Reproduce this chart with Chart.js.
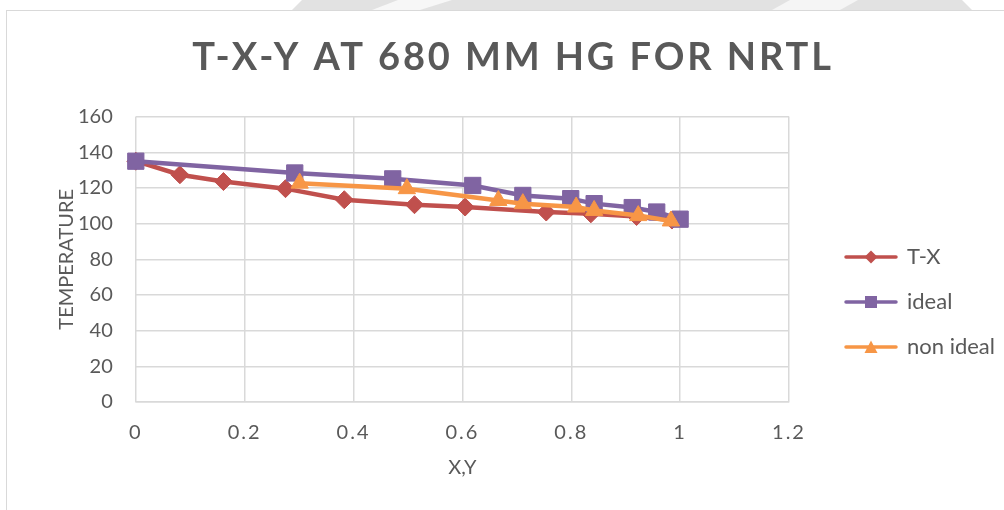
<!DOCTYPE html>
<html>
<head>
<meta charset="utf-8">
<script src="https://cdn.jsdelivr.net/npm/chart.js@4.4.1/dist/chart.umd.min.js"></script>
<style>
  html, body { margin: 0; padding: 0; background: #ffffff; }
  #wrap { position: relative; width: 1004px; height: 510px; overflow: hidden; background: #fff; }
  #band { position: absolute; left: 0; top: 0; width: 1004px; height: 11px; }
  #frame { position: absolute; left: 6px; top: 10px; width: 1100px; height: 600px; border: 1px solid #d9d9d9; box-sizing: border-box; }
  #c { position: absolute; left: 0; top: 0; }
</style>
</head>
<body>
<div id="wrap">
  <svg id="band" width="1004" height="11">
    <polygon points="292,10 302,0 962,0 972,10" fill="#e2e2e2"/>
    <polygon points="372,10 398,0 452,0 420,10" fill="#f7f7f7"/>
    <polygon points="772,10 790,0 858,0 840,10" fill="#f5f5f5"/>
  </svg>
  <div id="frame"></div>
  <canvas id="c" width="1004" height="510"></canvas>
</div>
<script>
// ---- data ----
const seriesNames = ['T-X', 'ideal', 'non ideal'];

const txX = [0, 0.081, 0.161, 0.275, 0.383, 0.512, 0.605, 0.754, 0.836, 0.92, 0.985];
const txT = [135, 127.4, 123.6, 119.6, 113.4, 110.6, 109.3, 106.5, 105.5, 104, 102];

const idealX = [0, 0.292, 0.472, 0.619, 0.711, 0.799, 0.842, 0.912, 0.957, 1.0];
const idealT = [135, 128.4, 125.1, 121.4, 115.8, 114, 111.2, 109, 106.5, 102.5];

const nonIdealX = [0.301, 0.498, 0.666, 0.711, 0.809, 0.842, 0.923, 0.983];
const nonIdealT = [122.7, 119.6, 113, 111.2, 109.3, 107.4, 104.5, 101.5];

const xTickLabels = ['0', '0.2', '0.4', '0.6', '0.8', '1', '1.2'];
const yTickLabels = ['0', '20', '40', '60', '80', '100', '120', '140', '160'];

const chartTitle = 'T-X-Y AT 680 MM HG FOR NRTL';
const xTitle = 'X,Y';
const yTitle = 'TEMPERATURE';

// ---- styling ----
const colors = ['#C0504D', '#8064A2', '#F79646'];
const textColor = '#595959';
const gridColor = '#d9d9d9';
const FONT = 'Lato, "Open Sans", sans-serif';

function pts(xs, ys) { return xs.map((x, i) => ({ x: x, y: ys[i] })); }

function legendImage(color, style) {
  const cv = document.createElement('canvas');
  cv.width = 54; cv.height = 16;
  const g = cv.getContext('2d');
  g.strokeStyle = color; g.lineWidth = 3.5; g.lineCap = 'round';
  g.beginPath(); g.moveTo(2, 8); g.lineTo(52, 8); g.stroke();
  g.fillStyle = color;
  g.beginPath();
  if (style === 'diamond') {
    g.moveTo(27, 1.5); g.lineTo(33.5, 8); g.lineTo(27, 14.5); g.lineTo(20.5, 8);
  } else if (style === 'square') {
    g.rect(21, 2, 12, 12);
  } else {
    g.moveTo(27, 1.5); g.lineTo(33.5, 14); g.lineTo(20.5, 14);
  }
  g.closePath(); g.fill();
  return cv;
}
const legendImgs = [
  legendImage(colors[0], 'diamond'),
  legendImage(colors[1], 'square'),
  legendImage(colors[2], 'triangle')
];

const legendShift = { x: 34, y: 57 };
const shiftLegend = {
  id: 'shiftLegend',
  afterLayout(chart) {
    const lg = chart.legend;
    if (!lg) return;
    lg.left += legendShift.x; lg.right += legendShift.x;
    lg.top += legendShift.y; lg.bottom += legendShift.y;
  }
};

const ctx = document.getElementById('c').getContext('2d');
const chart = new Chart(ctx, {
  type: 'line',
  data: {
    datasets: [
      {
        label: seriesNames[0], data: pts(txX, txT), order: 3,
        borderColor: colors[0], backgroundColor: colors[0], borderWidth: 4.5,
        pointStyle: 'rectRot', pointRadius: 9, pointBorderWidth: 1,
        pointBackgroundColor: colors[0], pointBorderColor: colors[0]
      },
      {
        label: seriesNames[1], data: pts(idealX, idealT), order: 2,
        borderColor: colors[1], backgroundColor: colors[1], borderWidth: 4.5,
        pointStyle: 'rect', pointRadius: 11.5, pointBorderWidth: 1,
        pointBackgroundColor: colors[1], pointBorderColor: colors[1]
      },
      {
        label: seriesNames[2], data: pts(nonIdealX, nonIdealT), order: 1,
        borderColor: colors[2], backgroundColor: colors[2], borderWidth: 4.5,
        pointStyle: 'triangle', pointRadius: 10, pointBorderWidth: 1,
        pointBackgroundColor: colors[2], pointBorderColor: colors[2]
      }
    ]
  },
  options: {
    responsive: false,
    animation: false,
    clip: false,
    tension: 0,
    layout: { padding: { left: 55, right: 33, top: 10, bottom: 30 } },
    plugins: {
      tooltip: { enabled: false },
      title: {
        display: true, text: chartTitle, color: textColor,
        font: { family: FONT, size: 38, weight: 'bold' },
        padding: { top: 25, bottom: 36 }
      },
      legend: {
        display: true, position: 'right',
        labels: {
          color: textColor, font: { family: FONT, size: 22 },
          usePointStyle: true, pointStyleWidth: 50, padding: 23,
          sort: (a, b) => a.datasetIndex - b.datasetIndex,
          generateLabels: (c) => {
            const items = Chart.defaults.plugins.legend.labels.generateLabels(c);
            items.forEach(it => { it.pointStyle = legendImgs[it.datasetIndex]; });
            return items;
          }
        }
      }
    },
    scales: {
      x: {
        type: 'linear', min: 0, max: 1.2,
        grid: { color: gridColor, lineWidth: 1.5, drawTicks: false },
        border: { color: gridColor, width: 1.5 },
        ticks: {
          stepSize: 0.2, padding: 19, color: textColor,
          font: { family: FONT, size: 20 },
          callback: (v, i) => xTickLabels[i]
        },
        title: {
          display: true, text: xTitle, color: textColor,
          font: { family: FONT, size: 20 }, padding: { top: -8, bottom: 0 }
        }
      },
      y: {
        type: 'linear', min: 0, max: 160,
        grid: { color: gridColor, lineWidth: 1.5, drawTicks: false },
        border: { display: false },
        ticks: {
          stepSize: 20, padding: 23, color: textColor,
          font: { family: FONT, size: 20 },
          callback: (v, i) => yTickLabels[i]
        },
        title: {
          display: true, text: yTitle, color: textColor,
          font: { family: FONT, size: 20 }, padding: { top: 0, bottom: -24 }
        }
      }
    }
  },
  plugins: [shiftLegend]
});

// letter spacing for the title and the x tick labels (as in the reference)
const tb = chart.titleBlock;
const origTitleDraw = tb.draw;
tb.draw = function () {
  const g = this.ctx; g.save(); g.letterSpacing = '2.9px'; origTitleDraw.apply(this, arguments); g.restore();
};
const xs = chart.scales.x;
const origXLabels = xs.drawLabels;
xs.drawLabels = function () {
  const g = this.ctx; g.save(); g.letterSpacing = '2px'; origXLabels.apply(this, arguments); g.restore();
};
chart.draw();
</script>
</body>
</html>
